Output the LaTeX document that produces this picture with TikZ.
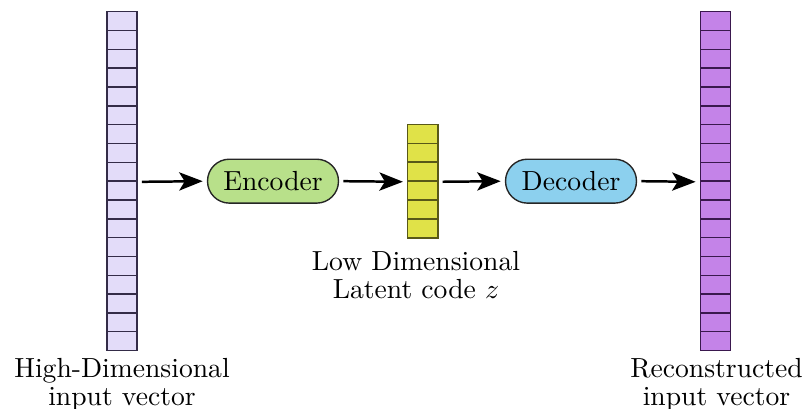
\documentclass[tikz,border=0pt]{standalone}
\usepackage{amsmath,amssymb}
\usepackage{tikz}
\usetikzlibrary{arrows.meta}
\definecolor{infill}{RGB}{227,220,249}
\definecolor{indraw}{RGB}{52,44,72}
\definecolor{outfill}{RGB}{196,131,232}
\definecolor{outdraw}{RGB}{58,24,78}
\definecolor{zfill}{RGB}{224,226,72}
\definecolor{zdraw}{RGB}{88,88,24}
\definecolor{encfill}{RGB}{184,224,138}
\definecolor{decfill}{RGB}{140,208,238}
\tikzset{
  cell/.style={draw, line width=0.5pt, inner sep=0pt, minimum width=10.9pt, minimum height=6.82pt},
  block/.style={draw=black!85, line width=0.5pt, rounded corners=7.9pt, minimum width=47.4pt, minimum height=15.9pt, inner sep=0pt},
  arr/.style={line width=0.9pt, -{Stealth[length=8.5pt,width=6.6pt,inset=2pt]}, shorten <=1.5pt, shorten >=1.5pt},
  lbl/.style={align=center, anchor=north, inner sep=0pt}
}

\begin{document}
\begin{tikzpicture}[x=0.362pt,y=-0.362pt]
\useasboundingbox (0,0) rectangle (807,409);

%vectors
\foreach \i in {1,...,18}
  \node[cell, fill=infill, draw=indraw] (in\i) at (122,{11.7+(\i-0.5)*18.83}) {};
\foreach \i in {1,...,6}
  \node[cell, fill=zfill, draw=zdraw] (z\i) at (422.8,{124.4+(\i-0.5)*18.92}) {};
\foreach \i in {1,...,18}
  \node[cell, fill=outfill, draw=outdraw] (out\i) at (715.5,{11.7+(\i-0.5)*18.83}) {};

%blocks
\node[block, fill=encfill] (enc) at (273,181.17) {Encoder};
\node[block, fill=decfill] (dec) at (571,181.17) {Decoder};

%edges
\draw[arr] (in9.south east) -- (enc.west);
\draw[arr] (enc.east) -- (z3.south west);
\draw[arr] (z3.south east) -- (dec.west);
\draw[arr] (dec.east) -- (out9.south west);

%labels
\node[lbl] (inlabel) at (122,358) {High-Dimensional\\[-2pt] input vector};
\node[lbl] (zlabel) at (416,251) {Low Dimensional\\[-2pt] Latent code $z$};
\node[lbl] (outlabel) at (716.5,358) {Reconstructed\\[-2pt] input vector};

\end{tikzpicture}
\end{document}
